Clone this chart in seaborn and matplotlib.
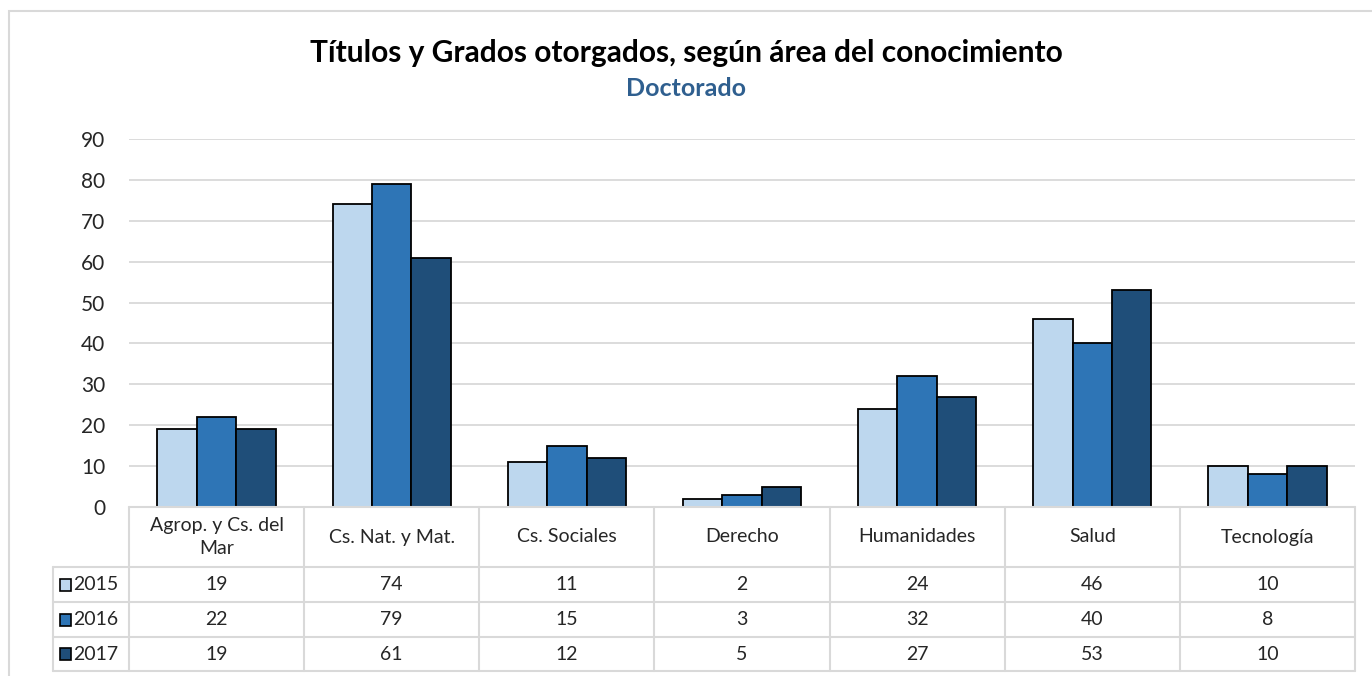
import matplotlib.pyplot as plt
import matplotlib.patches as mpatches
import seaborn as sns
import pandas as pd

areas = ["Agrop. y Cs. del\nMar", "Cs. Nat. y Mat.", "Cs. Sociales", "Derecho",
         "Humanidades", "Salud", "Tecnología"]
years = ["2015", "2016", "2017"]
v2015 = [19, 74, 11, 2, 24, 46, 10]
v2016 = [22, 79, 15, 3, 32, 40, 8]
v2017 = [19, 61, 12, 5, 27, 53, 10]
colors = ["#BDD7EE", "#2E75B6", "#1F4E79"]

series = dict(zip(years, [v2015, v2016, v2017]))
rows = []
for yr, vals in series.items():
    for a, v in zip(areas, vals):
        rows.append({"area": a, "anio": yr, "valor": v})
df = pd.DataFrame(rows)

sns.set_style("white")
plt.rcParams['font.family'] = ['Lato', 'DejaVu Sans']

W, H = 1372, 676
fig = plt.figure(figsize=(W / 100, H / 100), dpi=100)

# outer chart border
fig.patches.append(mpatches.Rectangle((9 / W, -0.1), 1.2, 1 - 11 / H + 0.1,
                                      transform=fig.transFigure, fill=False,
                                      edgecolor="#D9D9D9", linewidth=1.5))

x0, x1 = 129, 1355
y_top, y_zero = 139, 507
ax = fig.add_axes([x0 / W, (H - y_zero) / H, (x1 - x0) / W, (y_zero - y_top) / H])
sns.barplot(data=df, x="area", y="valor", hue="anio", order=areas, hue_order=years,
            palette=colors, saturation=1, width=0.675, edgecolor="black",
            linewidth=1.3, legend=False, ax=ax, zorder=3)
ax.set_ylim(0, 90)
ax.set_xlim(-0.5, len(areas) - 0.5)
ax.set_yticks(range(0, 91, 10))
ax.yaxis.grid(True, color="#D9D9D9", linewidth=1.3, zorder=0)
ax.set_axisbelow(True)
for s in ax.spines.values():
    s.set_visible(False)
ax.set_xticks([])
ax.set_xlabel("")
ax.set_ylabel("")
ax.tick_params(axis="y", length=0, pad=17, labelsize=15)

# data table under the chart
t_left, t_bottom = 53, 671
col_w = (x1 - x0) / len(areas)
label_w = (x0 - t_left) / col_w
tax = fig.add_axes([t_left / W, (H - t_bottom) / H, (x1 - t_left) / W, (t_bottom - y_zero) / H])
tax.set_xlim(-0.5 - label_w, len(areas) - 0.5)
tax.set_ylim(t_bottom - y_zero, 0)
tax.axis("off")
bounds = [0, 60, 95, 130, 164]
lc = "#D9D9D9"
lw = 1.5
n = len(areas)
# horizontal lines
tax.plot([-0.5, n - 0.5], [0, 0], color=lc, lw=lw, clip_on=False)
for yb in bounds[1:]:
    tax.plot([-0.5 - label_w, n - 0.5], [yb, yb], color=lc, lw=lw, clip_on=False)
# vertical lines
for i in range(n + 1):
    tax.plot([i - 0.5, i - 0.5], [0, bounds[-1]], color=lc, lw=lw, clip_on=False)
tax.plot([-0.5 - label_w] * 2, [bounds[1], bounds[-1]], color=lc, lw=lw, clip_on=False)

fs = 14
for i, a in enumerate(areas):
    tax.text(i, bounds[1] / 2, a, ha="center", va="center", fontsize=fs,
             linespacing=1.4)
for r, (yr, vals) in enumerate(series.items()):
    yc = (bounds[r + 1] + bounds[r + 2]) / 2
    for i, v in enumerate(vals):
        tax.text(i, yc, str(v), ha="center", va="center", fontsize=fs)
    sq_x = -0.5 - label_w + 7 / col_w
    tax.add_patch(mpatches.Rectangle((sq_x, yc - 6), 11 / col_w, 12,
                                     facecolor=colors[r], edgecolor="black",
                                     linewidth=1.2, clip_on=False))
    tax.text(sq_x + 13 / col_w, yc, yr, ha="left", va="center", fontsize=fs)

fig.text(0.5, 1 - 53 / H, "Títulos y Grados otorgados, según área del conocimiento",
         ha="center", va="center", fontsize=21.5, fontweight="bold", color="black")
fig.text(0.5, 1 - 89 / H, "Doctorado", ha="center", va="center", fontsize=18,
         fontweight="bold", color="#2F5F8F")

fig.savefig("out.png", dpi=100)
